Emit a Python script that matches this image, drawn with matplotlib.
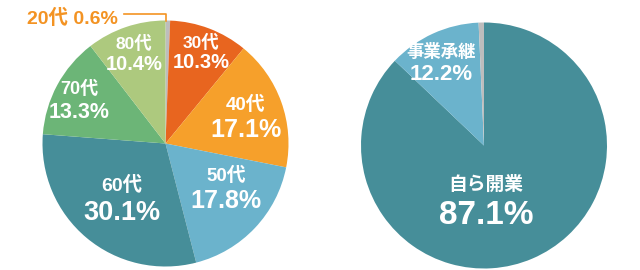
"""
Two pie charts: age breakdown (left) and how the practice was started (right).
"""

import matplotlib
matplotlib.use('Agg')
import matplotlib.pyplot as plt

plt.rcParams['font.family'] = ['Liberation Sans', 'Noto Sans CJK JP']

# left pie, clockwise from the top
age_labels = ['20代', '30代', '40代', '50代', '60代', '70代', '80代']
age_values = [0.6, 10.3, 17.1, 17.8, 30.1, 13.3, 10.4]
age_colors = ['#bdbdbd', '#e8651f', '#f6a02b', '#6bb3cc', '#468e99', '#6cb577', '#adc97e']

# right pie, clockwise from the top
start_labels = ['自ら開業', '事業承継', 'その他']
start_values = [87.1, 12.2, 0.7]
start_colors = ['#468e99', '#6bb3cc', '#bdbdbd']

W, H = 640, 270
fig = plt.figure(figsize=(W / 100, H / 100), dpi=100)


def pie_axes(cx, cy, r):
    # place an axes so that a unit-radius pie lands at pixel centre (cx, cy)
    ax = fig.add_axes([(cx - r) / W, (H - cy - r) / H, 2 * r / W, 2 * r / H])
    ax.set_aspect('equal')
    ax.axis('off')
    return ax


def px(cx, cy, r, x, y):
    # pixel position in the picture -> data coords of the pie axes
    return (x - cx) / r, (cy - y) / r


def label(ax, c, name, value, x, y, size_name, size_pct, gap):
    xn, yn = px(*c, x, y)
    ax.text(xn, yn, name, ha='center', va='center', color='white',
            fontsize=size_name, fontweight='bold')
    ax.text(xn, yn - gap / c[2], f'{value}%', ha='center', va='center',
            color='white', fontsize=size_pct, fontweight='bold')


# --- left pie
c1 = (165.5, 143.5, 123)
ax1 = pie_axes(*c1)
ax1.pie(age_values, colors=age_colors, startangle=90, counterclock=False,
        radius=1, wedgeprops=dict(linewidth=0))
ax1.set_xlim(-1, 1)
ax1.set_ylim(-1, 1)

# (label index, pixel x, pixel y, name size, pct size, gap)
age_text = [(1, 201, 42, 12.5, 14.5, 21),
            (2, 246, 105, 13.5, 18, 25),
            (3, 226, 176, 13.5, 18, 25),
            (4, 122, 185, 14, 19.5, 28),
            (5, 79, 89, 13, 15.5, 23),
            (6, 134, 43, 12.5, 14.5, 21)]
for i, x, y, s1, s2, g in age_text:
    label(ax1, c1, age_labels[i], age_values[i], x, y, s1, s2, g)

# callout for the thin 20s wedge
fig.text(118 / W, 1 - 18 / H, f'{age_labels[0]} {age_values[0]}%',
         color='#f39323', fontsize=14, fontweight='bold', ha='right', va='center')
fig.add_artist(plt.Line2D([124 / W, 166 / W, 166 / W],
                          [1 - 14 / H, 1 - 14 / H, 1 - 21 / H],
                          color='#f39323', linewidth=1.2))

# --- right pie
c2 = (484, 145.5, 123)
ax2 = pie_axes(*c2)
ax2.pie(start_values, colors=start_colors, startangle=90, counterclock=False,
        radius=1, wedgeprops=dict(linewidth=0))
ax2.set_xlim(-1, 1)
ax2.set_ylim(-1, 1)

label(ax2, c2, start_labels[1], start_values[1], 441, 51, 12.5, 16, 23)
label(ax2, c2, start_labels[0], start_values[0], 486, 185, 13.5, 24, 30)

fig.savefig('out.png', dpi=100)
